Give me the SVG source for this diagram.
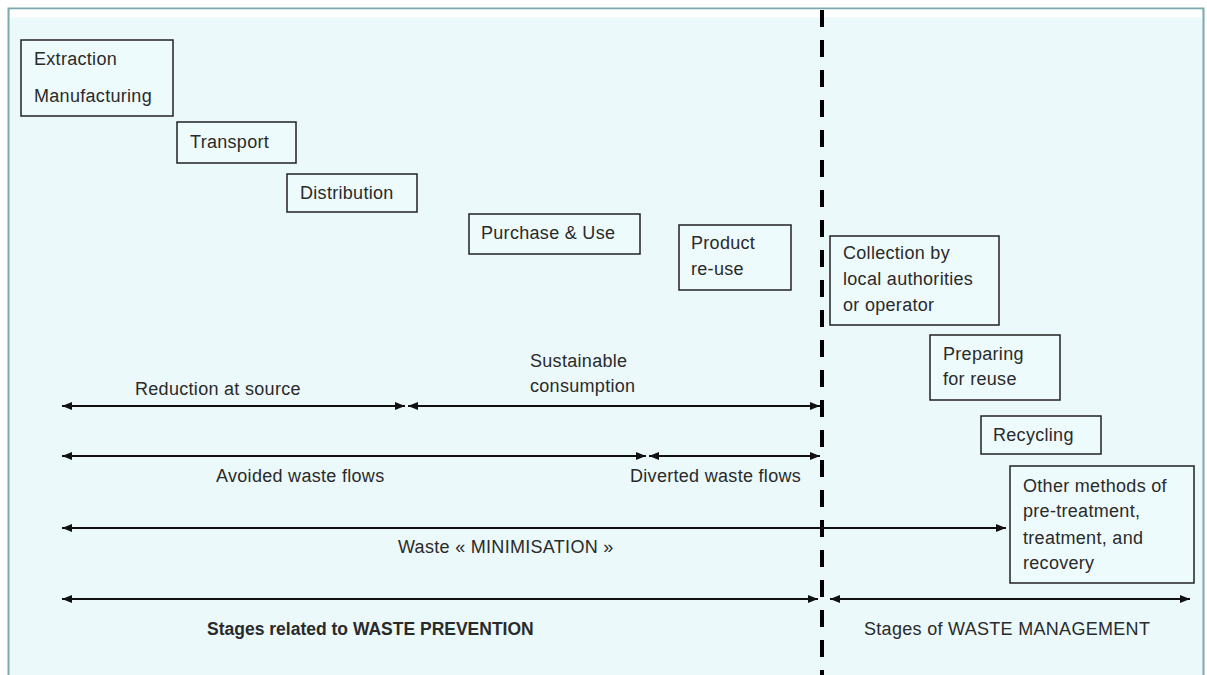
<svg xmlns="http://www.w3.org/2000/svg" width="1207" height="675" viewBox="0 0 1207 675">
<style>
.box{fill:#EEFBFC;stroke:#222;stroke-width:1.5}
.t{font-family:"Liberation Sans",Arial,sans-serif;font-size:18px;letter-spacing:0.3px;fill:#2a2a2a}
.b{font-weight:bold;font-size:17.5px;letter-spacing:0}
.ln{stroke:#111;stroke-width:2;fill:none}
</style>
<defs>
<marker id="ah" viewBox="0 0 10 10" refX="10" refY="5" markerWidth="10" markerHeight="10" markerUnits="userSpaceOnUse" orient="auto-start-reverse">
<path d="M0,1 L10,5 L0,9 z" fill="#111"/>
</marker>
</defs>
<rect x="0" y="0" width="1207" height="675" fill="#ffffff"/>
<rect x="8.5" y="8.5" width="1195" height="670" fill="#EBF9FB" stroke="#7FA8B0" stroke-width="2"/>
<line x1="10" y1="13.5" x2="1202" y2="13.5" stroke="#ffffff" stroke-width="8"/>

<g id="divider">
<line x1="822" y1="10" x2="822" y2="675" stroke="#000" stroke-width="4" stroke-dasharray="17 13"/>
</g>

<g id="n-extraction">
<rect class="box" x="21" y="40" width="152" height="76"/>
<text class="t" x="34" y="65">Extraction</text>
<text class="t" x="34" y="102">Manufacturing</text>
</g>
<g id="n-transport">
<rect class="box" x="177" y="122" width="119" height="41"/>
<text class="t" x="190" y="148">Transport</text>
</g>
<g id="n-distribution">
<rect class="box" x="287" y="174" width="130" height="38"/>
<text class="t" x="300" y="199">Distribution</text>
</g>
<g id="n-purchase">
<rect class="box" x="469" y="214" width="171" height="40"/>
<text class="t" x="481" y="239">Purchase &amp; Use</text>
</g>
<g id="n-reuse">
<rect class="box" x="679" y="225" width="112" height="65"/>
<text class="t" x="691" y="249">Product</text>
<text class="t" x="691" y="275">re-use</text>
</g>
<g id="n-collection">
<rect class="box" x="830" y="236" width="169" height="89"/>
<text class="t" x="843" y="259">Collection by</text>
<text class="t" x="843" y="285">local authorities</text>
<text class="t" x="843" y="311">or operator</text>
</g>
<g id="n-preparing">
<rect class="box" x="930" y="335" width="130" height="65"/>
<text class="t" x="943" y="360">Preparing</text>
<text class="t" x="943" y="385">for reuse</text>
</g>
<g id="n-recycling">
<rect class="box" x="981" y="416" width="120" height="38"/>
<text class="t" x="993" y="441">Recycling</text>
</g>
<g id="n-other">
<rect class="box" x="1010" y="466" width="184" height="117"/>
<text class="t" x="1023" y="492">Other methods of</text>
<text class="t" x="1023" y="517">pre-treatment,</text>
<text class="t" x="1023" y="544">treatment, and</text>
<text class="t" x="1023" y="569">recovery</text>
</g>

<g id="connectors">
<line class="ln" x1="62" y1="406" x2="405" y2="406" marker-start="url(#ah)" marker-end="url(#ah)"/>
<line class="ln" x1="408" y1="406" x2="820" y2="406" marker-start="url(#ah)" marker-end="url(#ah)"/>
<line class="ln" x1="62" y1="456" x2="646" y2="456" marker-start="url(#ah)" marker-end="url(#ah)"/>
<line class="ln" x1="649" y1="456" x2="820" y2="456" marker-start="url(#ah)" marker-end="url(#ah)"/>
<line class="ln" x1="62" y1="528" x2="1006" y2="528" marker-start="url(#ah)" marker-end="url(#ah)"/>
<line class="ln" x1="62" y1="599" x2="818" y2="599" marker-start="url(#ah)" marker-end="url(#ah)"/>
<line class="ln" x1="830" y1="599" x2="1190" y2="599" marker-start="url(#ah)" marker-end="url(#ah)"/>
</g>

<g id="labels">
<text class="t" x="135" y="395">Reduction at source</text>
<text class="t" x="530" y="367">Sustainable</text>
<text class="t" x="530" y="392">consumption</text>
<text class="t" x="216" y="482">Avoided waste flows</text>
<text class="t" x="630" y="482">Diverted waste flows</text>
<text class="t" x="398" y="553">Waste « MINIMISATION »</text>
<text class="t b" x="207" y="635">Stages related to WASTE PREVENTION</text>
<text class="t" x="864" y="635">Stages of WASTE MANAGEMENT</text>
</g>
</svg>
